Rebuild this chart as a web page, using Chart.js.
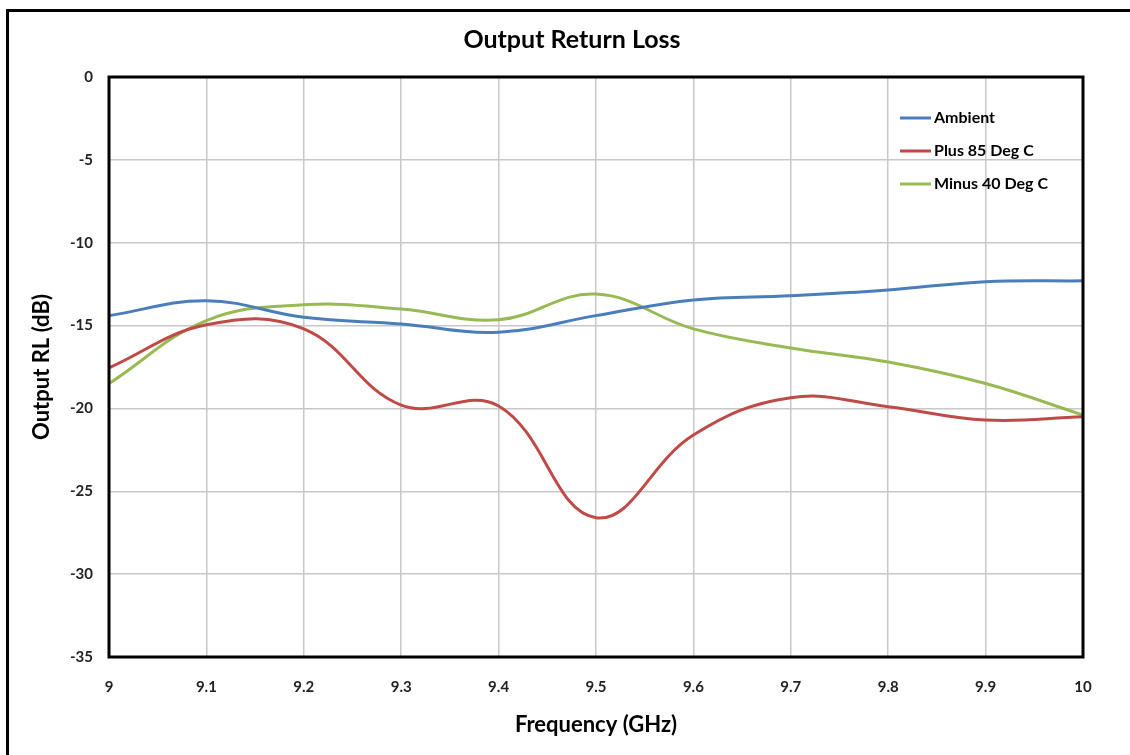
<!DOCTYPE html>
<html>
<head>
<meta charset="utf-8">
<script src="https://cdn.jsdelivr.net/npm/chart.js@4"></script>
<style>
  html, body { margin:0; padding:0; background:#fff; overflow:hidden; }
  #wrap { position:absolute; left:0; top:0; width:1130px; height:755px; }
  #frame { position:absolute; left:6px; top:9px; width:1200px; height:800px; border:3px solid #000; box-sizing:border-box; pointer-events:none; }
</style>
</head>
<body>
<div id="frame"></div>
<div id="wrap"><canvas id="c" width="1130" height="755"></canvas></div>
<script>
const chartTitle = 'Output Return Loss';
const frequencies = ['9','9.1','9.2','9.3','9.4','9.5','9.6','9.7','9.8','9.9','10'];
const ambient   = [-14.4, -13.5, -14.5, -14.9, -15.4, -14.4, -13.45, -13.2, -12.85, -12.35, -12.3];
const plus85    = [-17.55, -14.95, -15.2, -19.8, -19.85, -26.6, -21.6, -19.35, -19.9, -20.7, -20.5];
const minus40   = [-18.5, -14.7, -13.75, -14.0, -14.65, -13.1, -15.2, -16.35, -17.2, -18.5, -20.4];
const seriesNames = ['Ambient', 'Plus 85 Deg C', 'Minus 40 Deg C'];
const yTicks = [0, -5, -10, -15, -20, -25, -30, -35];

const FONT = 'Lato, "Open Sans", sans-serif';

const titlePlugin = {
  id: 'customTitle',
  afterDraw(chart) {
    const ctx = chart.ctx;
    ctx.save();
    ctx.fillStyle = '#000';
    ctx.font = 'bold 25px ' + FONT;
    ctx.textAlign = 'center';
    ctx.textBaseline = 'middle';
    ctx.fillText(chartTitle, 572, 40);
    ctx.restore();
  }
};

const legendPlugin = {
  id: 'insideLegend',
  afterDatasetsDraw(chart) {
    const ctx = chart.ctx;
    ctx.save();
    chart.data.datasets.forEach((ds, i) => {
      const y = 118 + i * 33;
      ctx.strokeStyle = ds.borderColor;
      ctx.lineWidth = 3;
      ctx.beginPath();
      ctx.moveTo(900, y);
      ctx.lineTo(931, y);
      ctx.stroke();
      ctx.fillStyle = '#000';
      ctx.font = 'bold 16px ' + FONT;
      ctx.textBaseline = 'middle';
      ctx.textAlign = 'left';
      ctx.fillText(ds.label, 934, y);
    });
    ctx.restore();
  }
};

const borderPlugin = {
  id: 'plotBorder',
  afterDraw(chart) {
    const a = chart.chartArea;
    const ctx = chart.ctx;
    ctx.save();
    ctx.strokeStyle = '#000';
    ctx.lineWidth = 3;
    ctx.strokeRect(a.left, a.top, a.right - a.left, a.bottom - a.top);
    ctx.restore();
  }
};

new Chart(document.getElementById('c'), {
  type: 'line',
  data: {
    labels: frequencies,
    datasets: [
      { label: seriesNames[0], data: ambient, borderColor: '#4A7EBB' },
      { label: seriesNames[1], data: plus85,  borderColor: '#BE4B48' },
      { label: seriesNames[2], data: minus40, borderColor: '#98B954' }
    ].map(d => Object.assign(d, { borderWidth: 3, pointRadius: 0, tension: 0.4, fill: false }))
  },
  options: {
    responsive: false,
    animation: false,
    layout: { padding: { left: 0, right: 47, top: 77, bottom: 0 } },
    plugins: {
      legend: { display: false },
      tooltip: { enabled: false },
      title: { display: false }
    },
    scales: {
      x: {
        type: 'category',
        offset: false,
        grid: { color: '#c8c8c8', lineWidth: 1.5, drawTicks: false },
        border: { display: false },
        ticks: { color: '#222', font: { family: FONT, size: 15, weight: 'bold' }, padding: 21, maxRotation: 0 },
        title: { display: true, text: 'Frequency (GHz)', color: '#000', font: { family: FONT, size: 22, weight: 'bold' }, padding: { top: 17, bottom: 17 } },
        afterFit(s) { s.height = 98; }
      },
      y: {
        min: -35, max: 0,
        grid: { color: '#c8c8c8', lineWidth: 1.5, drawTicks: false },
        border: { display: false },
        afterBuildTicks(s) { s.ticks = yTicks.map(v => ({ value: v })); },
        ticks: { color: '#222', font: { family: FONT, size: 15, weight: 'bold' }, padding: 16 },
        title: { display: true, text: 'Output RL (dB)', color: '#000', font: { family: FONT, size: 22, weight: 'bold' }, padding: { top: 29, bottom: 29 } },
        afterFit(s) { s.width = 109; }
      }
    }
  },
  plugins: [legendPlugin, borderPlugin, titlePlugin]
});
</script>
</body>
</html>
